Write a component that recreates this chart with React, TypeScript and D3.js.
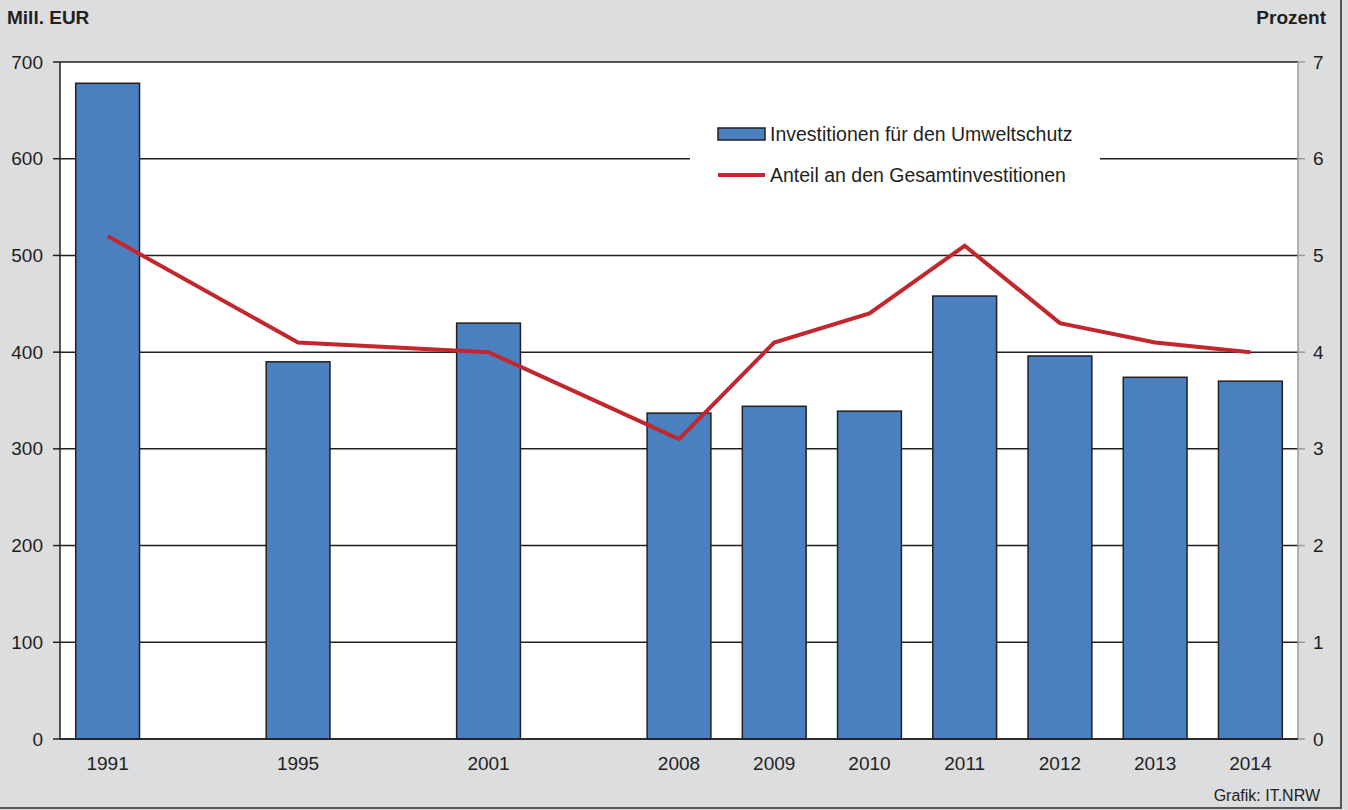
import React from "react";
import * as d3 from "d3";

const years = ["1991", "", "1995", "", "2001", "", "2008", "2009", "2010", "2011", "2012", "2013", "2014"];
const investments = [678, null, 390, null, 430, null, 337, 344, 339, 458, 396, 374, 370];
const shares = [5.2, null, 4.1, null, 4.0, null, 3.1, 4.1, 4.4, 5.1, 4.3, 4.1, 4.0];
const leftTicks = [0, 100, 200, 300, 400, 500, 600, 700];
const rightTicks = [0, 1, 2, 3, 4, 5, 6, 7];

const W = 1348, H = 810;
const m = { left: 60, right: 1298, top: 62, bottom: 739 };
const font = "'Liberation Sans', Arial, sans-serif";

export default function App() {
  const slots = years.map((_, i) => String(i));
  const x = d3.scaleBand().domain(slots).range([m.left, m.right]).paddingInner(0.33).paddingOuter(0.165);
  const yL = d3.scaleLinear().domain([0, 700]).range([m.bottom, m.top]);
  const yR = d3.scaleLinear().domain([0, 7]).range([m.bottom, m.top]);
  const cx = (i: number) => (x(String(i)) as number) + x.bandwidth() / 2;
  const linePts = shares.map((v, i) => (v == null ? null : [cx(i), yR(v)] as [number, number])).filter(Boolean) as [number, number][];
  const line = d3.line();
  return (
    <div style={{ position: "absolute", left: 0, top: 0 }}>
      <svg width={W} height={H} style={{ display: "block", fontFamily: font }}>
        <rect x={0} y={0} width={W} height={H} fill="#dcdddf" />
        <rect x={m.left} y={m.top} width={m.right - m.left} height={m.bottom - m.top} fill="#ffffff" />
        {leftTicks.map((t) => (
          <g key={t}>
            <line x1={m.left} x2={m.right} y1={yL(t)} y2={yL(t)} stroke="#231f20" strokeWidth={1.5} />
            <line x1={m.left - 7} x2={m.left} y1={yL(t)} y2={yL(t)} stroke="#231f20" strokeWidth={1.5} />
            <text x={43} y={yL(t)} textAnchor="end" dominantBaseline="central" fontSize={19} fill="#231f20">{t}</text>
          </g>
        ))}
        {rightTicks.map((t) => (
          <g key={t}>
            <line x1={m.right} x2={m.right + 7} y1={yR(t)} y2={yR(t)} stroke="#9a9a9a" strokeWidth={1.5} />
            <text x={1313} y={yR(t)} dominantBaseline="central" fontSize={19} fill="#231f20">{t}</text>
          </g>
        ))}
        <line x1={m.right} x2={m.right} y1={m.top} y2={m.bottom} stroke="#9a9a9a" strokeWidth={1.5} />
        {investments.map((v, i) =>
          v == null ? null : (
            <rect key={i} x={x(String(i))} y={yL(v)} width={x.bandwidth()} height={m.bottom - yL(v)}
              fill="#4a80c0" stroke="#231f20" strokeWidth={1.5} />
          )
        )}
        <line x1={m.left} x2={m.left} y1={m.top} y2={m.bottom} stroke="#231f20" strokeWidth={1.5} />
        <line x1={m.left} x2={m.right} y1={m.bottom} y2={m.bottom} stroke="#231f20" strokeWidth={1.5} />
        <rect x={690} y={112} width={410} height={90} fill="#ffffff" />
        <path d={line(linePts) || ""} fill="none" stroke="#c1272d" strokeWidth={4} strokeLinejoin="miter" />
        {years.map((y, i) => y ? (
          <text key={i} x={cx(i)} y={763} textAnchor="middle" dominantBaseline="central" fontSize={19} fill="#231f20">{y}</text>
        ) : null)}
        <rect x={718} y={128} width={47} height={12} fill="#4a80c0" stroke="#231f20" strokeWidth={1.5} />
        <text x={770} y={134} dominantBaseline="central" fontSize={19.5} fill="#231f20">Investitionen für den Umweltschutz</text>
        <line x1={718} x2={765} y1={175} y2={175} stroke="#c1272d" strokeWidth={4} />
        <text x={770} y={175} dominantBaseline="central" fontSize={19.5} fill="#231f20">Anteil an den Gesamtinvestitionen</text>
        <text x={7} y={24} fontSize={19} fontWeight="bold" fill="#231f20">Mill. EUR</text>
        <text x={1326} y={24} textAnchor="end" fontSize={19} fontWeight="bold" fill="#231f20">Prozent</text>
        <text x={1320} y={801} textAnchor="end" fontSize={16} fill="#231f20">Grafik: IT.NRW</text>
        <line x1={1341} x2={1341} y1={0} y2={809} stroke="#555" strokeWidth={2} />
        <line x1={0} x2={1342} y1={808} y2={808} stroke="#555" strokeWidth={2} />
      </svg>
    </div>
  );
}
